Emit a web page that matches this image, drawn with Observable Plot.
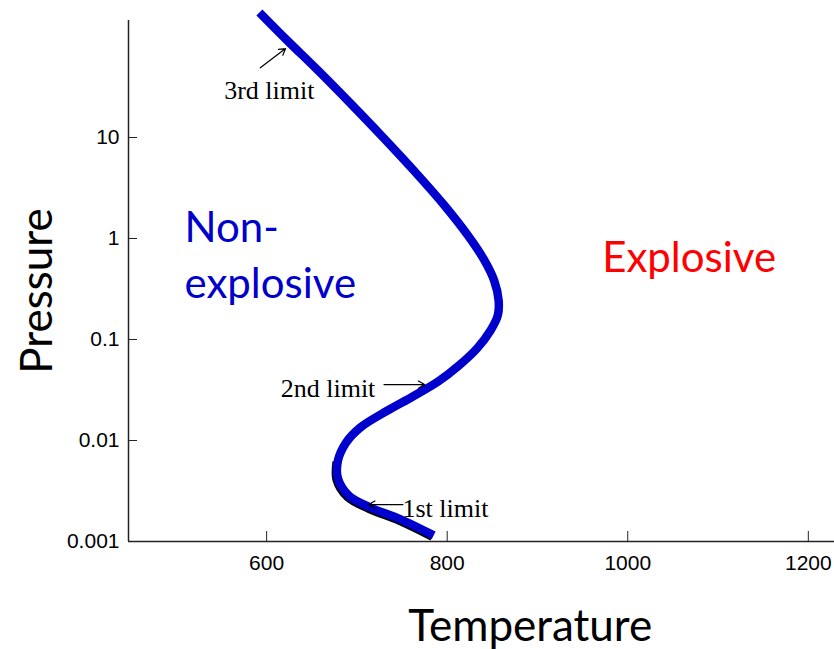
<!DOCTYPE html>
<html>
<head>
<meta charset="utf-8">
<script src="https://cdn.jsdelivr.net/npm/d3@7"></script>
<script src="https://cdn.jsdelivr.net/npm/@observablehq/plot@0.6"></script>
<style>
  html, body { margin: 0; padding: 0; background: #fff; }
</style>
</head>
<body>
<div id="chart"></div>
<script>
// Explosion limits of a hydrogen–oxygen mixture: pressure vs temperature
const temperature = [592, 623, 657, 693, 730, 765, 797, 823, 840, 852, 857, 856, 848, 833, 813, 790, 762, 734, 704, 688, 679, 679, 691, 715, 749, 785];
const pressure = [173, 91, 46, 21.7, 9.8, 4.5, 2.12, 1.07, 0.634, 0.384, 0.243, 0.173, 0.123, 0.0815, 0.0553, 0.0384, 0.0273, 0.0198, 0.0135, 0.00955, 0.00634, 0.00421, 0.00285, 0.00217, 0.00165, 0.00115];

const xTicks = [600, 800, 1000, 1200];
const xTickLabels = ["600", "800", "1000", "1200"];
const yTicks = [0.001, 0.01, 0.1, 1, 10];
const yTickLabels = ["0.001", "0.01", "0.1", "1", "10"];

// Limit annotations: label anchor and arrow tail/head
const limitNames = ["3rd limit", "2nd limit", "1st limit"];
const limitLabelT = [603, 668, 798];
const limitLabelP = [29, 0.0327, 0.00212];
const arrowT1 = [593, 730, 751];
const arrowP1 = [49, 0.0358, 0.00232];
const arrowT2 = [621, 775, 713];
const arrowP2 = [76, 0.0358, 0.00232];

// Region labels
const nonExplosiveLabel = "Non-\nexplosive";
const nonExplosiveT = 509;
const nonExplosiveP = 0.726;
const explosiveLabel = "Explosive";
const explosiveT = 1068;
const explosiveP = 0.63;

const curve = temperature.map((t, i) => ({t, p: pressure[i]}));
const lowerBranch = curve.filter(d => d.p < 0.009);
const limits = limitNames.map((name, i) => ({
  name, t: limitLabelT[i], p: limitLabelP[i],
  t1: arrowT1[i], p1: arrowP1[i], t2: arrowT2[i], p2: arrowP2[i]
}));

const xDomain = [447, 1229];
const sansTitle = "Lato, 'Open Sans', sans-serif";
const tickFont = "'Liberation Sans', Arial, sans-serif";

const chart = Plot.plot({
  width: 834,
  height: 649,
  marginLeft: 128,
  marginRight: 0,
  marginTop: 20,
  marginBottom: 108,
  style: {background: "#fff", overflow: "visible"},
  x: {domain: xDomain},
  y: {type: "log", domain: [0.001, 144]},
  marks: [
    // axis lines
    Plot.ruleX([xDomain[0]], {stroke: "#222", strokeWidth: 1.5}),
    Plot.ruleY([0.001], {stroke: "#222", strokeWidth: 1.5}),
    Plot.axisX({
      ticks: xTicks, tickSize: -10, tickPadding: 24, label: null,
      tickFormat: d => xTickLabels[xTicks.indexOf(d)],
      fontSize: 21, fontFamily: tickFont, stroke: "#222", fill: "#000"
    }),
    Plot.axisY({
      ticks: yTicks, tickSize: -9, tickPadding: 18, label: null,
      tickFormat: d => yTickLabels[yTicks.indexOf(d)],
      fontSize: 21, fontFamily: tickFont, stroke: "#222", fill: "#000"
    }),
    // thin dark edge along the lower branch
    Plot.line(lowerBranch, {
      x: "t", y: "p", curve: "catmull-rom", stroke: "#000",
      strokeWidth: 8.5, strokeLinecap: "butt", dx: -1.3, dy: 1.3
    }),
    // explosion-limit boundary
    Plot.line(curve, {
      x: "t", y: "p", curve: "catmull-rom", stroke: "#0000cc",
      strokeWidth: 8.5, strokeLinecap: "butt"
    }),
    Plot.arrow(limits, {
      x1: "t1", y1: "p1", x2: "t2", y2: "p2",
      stroke: "#000", strokeWidth: 1.2, headLength: 9, bend: 0
    }),
    Plot.text(limits, {
      x: "t", y: "p", text: "name", fontFamily: "'Liberation Serif', 'Times New Roman', serif",
      fontSize: 26, fill: "#000"
    }),
    Plot.text([nonExplosiveLabel], {
      x: [nonExplosiveT], y: [nonExplosiveP], text: d => d, fill: "#0000cc",
      textAnchor: "start", fontFamily: sansTitle, fontSize: 42, lineHeight: 1.33
    }),
    Plot.text([explosiveLabel], {
      x: [explosiveT], y: [explosiveP], text: d => d, fill: "#ff0000",
      fontFamily: sansTitle, fontSize: 42
    }),
    // axis titles
    Plot.text(["Temperature"], {
      frameAnchor: "bottom", x: [892], dy: 85, lineAnchor: "middle", textAnchor: "middle",
      text: d => d, fontFamily: sansTitle, fontSize: 44, fill: "#000"
    }),
    Plot.text(["Pressure"], {
      frameAnchor: "left", dx: -91, dy: 10, rotate: -90, textAnchor: "middle", lineAnchor: "middle",
      text: d => d, fontFamily: sansTitle, fontSize: 44, fill: "#000"
    })
  ]
});

document.getElementById("chart").append(chart);
</script>
</body>
</html>
